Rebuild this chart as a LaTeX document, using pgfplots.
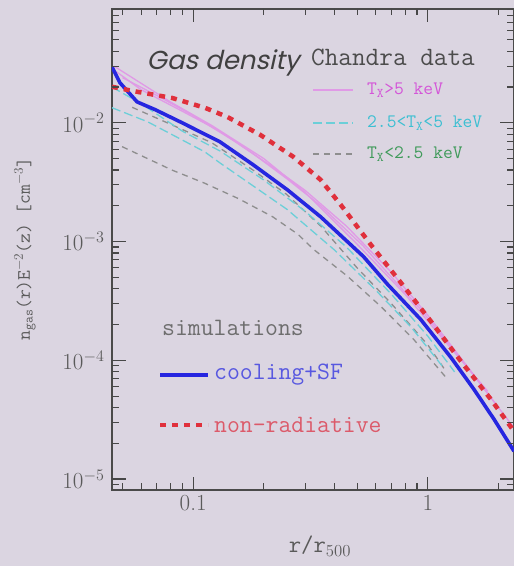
\RequirePackage{fix-cm}
\documentclass[border=0pt]{standalone}
\usepackage{fontspec}
\usepackage{pgfplots}
\pgfplotsset{compat=1.18}
\newfontfamily\gothic[FakeSlant=0.22]{Poppins}
\definecolor{bg}{HTML}{DBD5E1}
\definecolor{axiscol}{HTML}{4A4A4A}
\definecolor{labcol}{HTML}{5A5A5A}
\definecolor{simblue}{HTML}{2626E0}
\definecolor{simred}{HTML}{E0303C}
\definecolor{cpink}{HTML}{E09AE6}
\definecolor{ccyan}{HTML}{6CCFD8}
\definecolor{cgray}{HTML}{8E8E8E}
\definecolor{tpink}{HTML}{D455D8}
\definecolor{tcyan}{HTML}{3CBFD2}
\definecolor{tgreen}{HTML}{3F9A5A}
\definecolor{tblue}{HTML}{5858E0}
\definecolor{tred}{HTML}{DC5A6A}
\definecolor{tgray}{HTML}{6E6E6E}

\pgfplotstableread{
x y
0.0451 0.0296
0.0488 0.0217
0.0577 0.0150
0.0689 0.0129
0.0898 0.0100
0.130 0.00692
0.180 0.00444
0.252 0.00273
0.349 0.00162
0.532 7.48e-4
0.675 4.35e-4
0.933 2.21e-4
1.254 1.06e-4
1.573 5.70e-5
1.916 3.19e-5
2.33 1.72e-5
}\coolsf

\pgfplotstableread{
x y
0.0451 0.0201
0.0582 0.0182
0.0813 0.0162
0.112 0.0134
0.140 0.0112
0.193 0.00793
0.267 0.00518
0.349 0.00332
0.425 0.00205
0.571 9.44e-4
0.767 4.52e-4
1.031 2.13e-4
1.384 9.82e-5
1.858 4.70e-5
2.33 2.53e-5
}\nonrad

\begin{document}
\begin{tikzpicture}
\fill[bg] (0pt,0pt) rectangle (514pt,566pt);
\begin{axis}[
  at={(112pt,76pt)}, anchor=south west,
  scale only axis, width=402pt, height=481pt,
  xmode=log, ymode=log,
  xmin=0.0451, xmax=2.33, ymin=8.1e-6, ymax=0.0908,
  axis line style={axiscol, line width=1.6pt},
  major tick length=0pt, minor tick length=0pt,
  xtick={0.1,1}, xticklabels={0.1,1},
  ytick={1e-5,1e-4,1e-3,1e-2},
  tick label style={font=\fontsize{23}{26}\selectfont, text=labcol},
  yticklabel style={xshift=-4pt},
  xticklabel style={yshift=-2pt},
]
% Chandra: T<2.5 keV (gray dashed)
\addplot[cgray, line width=1.3pt, dash pattern=on 6pt off 5pt] coordinates {
(0.0498,0.0063) (0.0813,0.0040) (0.112,0.0031) (0.156,0.0023) (0.218,0.00162) (0.28,0.00115) (0.326,8.6e-4) (0.455,5.1e-4) (0.63,2.85e-4) (0.871,1.5e-4) (1.216,6.9e-5)};
\addplot[cgray, line width=1.3pt, dash pattern=on 6pt off 5pt] coordinates {
(0.055,0.0135) (0.0813,0.0096) (0.12,0.0068) (0.18,0.0040) (0.25,0.0025) (0.35,0.00135) (0.5,6.0e-4) (0.7,3.0e-4) (1.0,1.35e-4) (1.2,8.0e-5)};
% Chandra: 2.5<T<5 keV (cyan dashed)
\addplot[ccyan, line width=1.3pt, dash pattern=on 9pt off 4pt] coordinates {
(0.0451,0.0134) (0.064,0.0102) (0.112,0.0057) (0.130,0.0046) (0.252,0.00186) (0.4,8.5e-4) (0.6,3.9e-4) (0.85,1.9e-4) (1.15,9.0e-5)};
\addplot[ccyan, line width=1.3pt, dash pattern=on 9pt off 4pt] coordinates {
(0.0451,0.020) (0.06,0.0145) (0.09,0.0085) (0.13,0.0058) (0.2,0.0033) (0.3,0.0018) (0.45,9.0e-4) (0.7,3.6e-4) (1.0,1.6e-4) (1.3,8.0e-5)};
% Chandra: T>5 keV (pink solid)
\addplot[cpink, line width=1.3pt] coordinates {
(0.047,0.027) (0.06,0.019) (0.09,0.0125) (0.13,0.0085) (0.18,0.0055) (0.25,0.0034) (0.35,0.0020) (0.53,9.2e-4) (0.93,2.7e-4) (1.4,1.0e-4) (2.3,2.8e-5)};
\addplot[cpink, line width=1.3pt] coordinates {
(0.05,0.024) (0.07,0.017) (0.1,0.0115) (0.15,0.0070) (0.22,0.0042) (0.3,0.0027) (0.45,0.00135) (0.7,5.5e-4) (1.0,2.4e-4) (1.5,8.5e-5) (2.0,4.0e-5)};
\addplot[cpink, line width=1.3pt] coordinates {
(0.046,0.030) (0.055,0.024) (0.08,0.015) (0.12,0.0095) (0.2,0.0050) (0.3,0.0026) (0.5,9.5e-4) (0.8,3.6e-4) (1.2,1.4e-4) (1.8,5.5e-5)};
% simulations
\addplot[simblue, line width=3.6pt, line join=round] table[x=x,y=y] {\coolsf};
\addplot[simred, line width=4.5pt, dash pattern=on 6pt off 6pt] table[x=x,y=y] {\nonrad};
\end{axis}
% tick marks drawn as frame decoration (inside, all four sides)
\foreach \tx in {193.1,427.8}{
  \draw[black!72, line width=1.2pt] (\tx pt,76pt) -- (\tx pt,89pt);
  \draw[black!72, line width=1.2pt] (\tx pt,557pt) -- (\tx pt,544pt);}
\foreach \tx in {122.5,141.1,156.8,170.4,182.4,263.8,305.1,334.4,357.2,375.7,391.4,405.1,417.0,498.4}{
  \draw[black!72, line width=1.1pt] (\tx pt,76pt) -- (\tx pt,82.5pt);
  \draw[black!72, line width=1.1pt] (\tx pt,557pt) -- (\tx pt,550.5pt);}
\foreach \ty in {86.9,205.7,324.5,443.2}{
  \draw[black!72, line width=1.2pt] (112pt,\ty pt) -- (126pt,\ty pt);
  \draw[black!72, line width=1.2pt] (514pt,\ty pt) -- (500pt,\ty pt);
  \foreach \m [evaluate=\m as \yy using \ty+\m] in {35.76,56.67,71.51,83.02,92.43,100.38,107.27,113.34}{
    \draw[black!72, line width=1.1pt] (112pt,\yy pt) -- (119pt,\yy pt);
    \draw[black!72, line width=1.1pt] (514pt,\yy pt) -- (507pt,\yy pt);}}
\draw[black!72, line width=1.1pt] (112pt,81.4pt) -- (119pt,81.4pt);
\draw[black!72, line width=1.1pt] (514pt,81.4pt) -- (507pt,81.4pt);
% texts
\node[font=\gothic\fontsize{26}{28}\selectfont, text=black!75] at (223pt,503pt) {Gas density};
\node[font=\ttfamily\fontsize{26.5}{28}\selectfont, text=black!70] at (393pt,509pt) {Chandra data};
\draw[cpink, line width=1.3pt] (313pt,476pt) -- (353pt,476pt);
\draw[ccyan, line width=1.3pt, dash pattern=on 9pt off 4pt] (313pt,443pt) -- (353pt,443pt);
\draw[cgray, line width=1.3pt, dash pattern=on 6pt off 5pt] (313pt,412pt) -- (353pt,412pt);
\node[anchor=west, font=\ttfamily\fontsize{19}{22}\selectfont, text=tpink, inner sep=0pt] at (367pt,476pt) {T$_{\mathtt{X}}$>5 keV};
\node[anchor=west, font=\ttfamily\fontsize{19}{22}\selectfont, text=tcyan, inner sep=0pt] at (367pt,443pt) {2.5<T$_{\mathtt{X}}$<5 keV};
\node[anchor=west, font=\ttfamily\fontsize{19}{22}\selectfont, text=tgreen, inner sep=0pt] at (367pt,412pt) {T$_{\mathtt{X}}$<2.5 keV};
\node[anchor=west, font=\ttfamily\fontsize{25}{28}\selectfont, text=tgray, inner sep=0pt] at (162pt,238pt) {simulations};
\draw[simblue, line width=3.6pt] (160pt,191pt) -- (208pt,191pt);
\draw[simred, line width=4.5pt, dash pattern=on 6pt off 6pt] (160pt,141pt) -- (208pt,141pt);
\node[anchor=west, font=\ttfamily\fontsize{25}{28}\selectfont, text=tblue, inner sep=0pt] at (214pt,191pt) {cooling+SF};
\node[anchor=west, font=\ttfamily\fontsize{25}{28}\selectfont, text=tred, inner sep=0pt] at (214pt,141pt) {non-radiative};
\node[rotate=90, font=\ttfamily\fontsize{19}{22}\selectfont, text=labcol] at (25pt,317pt) {n$_{\mathtt{gas}}$(r)E$^{-2}$(z) [cm$^{-3}$]};
\node[font=\ttfamily\fontsize{24}{26}\selectfont, text=labcol] at (320pt,20pt) {r/r$_{500}$};
\pgfresetboundingbox
\useasboundingbox (0pt,0pt) rectangle (514pt,566pt);
\end{tikzpicture}
\end{document}
